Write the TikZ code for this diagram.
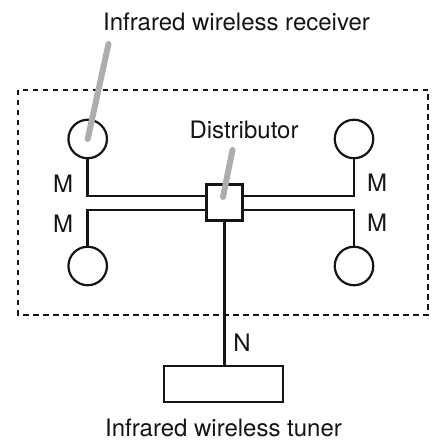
\documentclass[tikz,border=0pt]{standalone}
\usepackage{fontspec}
\setmainfont{TeX Gyre Heros}
\begin{document}
\begin{tikzpicture}[x=1pt,y=1pt,
  wire/.style={draw=black!92,line width=2.5pt,line join=miter},
  unit/.style={circle,draw=black!92,line width=2.2pt,minimum size=38.5pt,inner sep=0pt,fill=white},
  boxed/.style={draw=black!92,line width=2.2pt,minimum height=36pt,inner sep=0pt,fill=white},
  lab/.style={inner sep=0pt,text=black!92,font=\fontsize{24}{28}\selectfont},
  lead/.style={draw=black!32,line width=6pt,line cap=round}]
\useasboundingbox (0,0) rectangle (431,444);
\coordinate (tl) at (18,354);
\coordinate (br) at (428,129);
\draw[draw=black!92,line width=2.5pt,dash pattern=on 5.5pt off 4.5pt] (tl) rectangle (br);
\node[boxed,minimum width=36pt] (dist) at (224.5,241.5) {};
\node[unit] (c1) at (87.7,305) {};
\node[unit] (c2) at (87.7,178) {};
\node[unit] (c3) at (354,305) {};
\node[unit] (c4) at (354,178) {};
\node[boxed,minimum width=119pt] (tuner) at (223.5,60) {};
\coordinate (w1) at ([yshift=6.5pt]dist.west);
\coordinate (w2) at ([yshift=-7.5pt]dist.west);
\coordinate (e1) at ([yshift=6.5pt]dist.east);
\coordinate (e2) at ([yshift=-7.5pt]dist.east);
\draw[wire] (c1.south) -- (c1.south |- w1) -- (w1);
\draw[wire] (c2.north) -- (c2.north |- w2) -- (w2);
\draw[wire] (c3.south) -- (c3.south |- e1) -- (e1);
\draw[wire] (c4.north) -- (c4.north |- e2) -- (e2);
\draw[wire] (dist.south) -- (dist.south |- tuner.north);
\coordinate (a1) at (108.5,400);
\coordinate (a2) at (87.7,305);
\coordinate (b1) at (232.5,294);
\coordinate (b2) at (223,247);
\draw[lead] (a1) -- (a2);
\draw[lead] (b1) -- (b2);
\node[lab] (t1) at (236.5,422.5) {Infrared wireless receiver};
\node[lab] (t2) at (244,314.5) {Distributor};
\node[lab] (t3) at (223.5,16) {Infrared wireless tuner};
\node[lab] (m1) at (63,260) {M};
\node[lab] (m2) at (63,220) {M};
\node[lab] (m3) at (377,261) {M};
\node[lab] (m4) at (377,221) {M};
\node[lab] (n) at (242,101) {N};
\end{tikzpicture}
\end{document}
